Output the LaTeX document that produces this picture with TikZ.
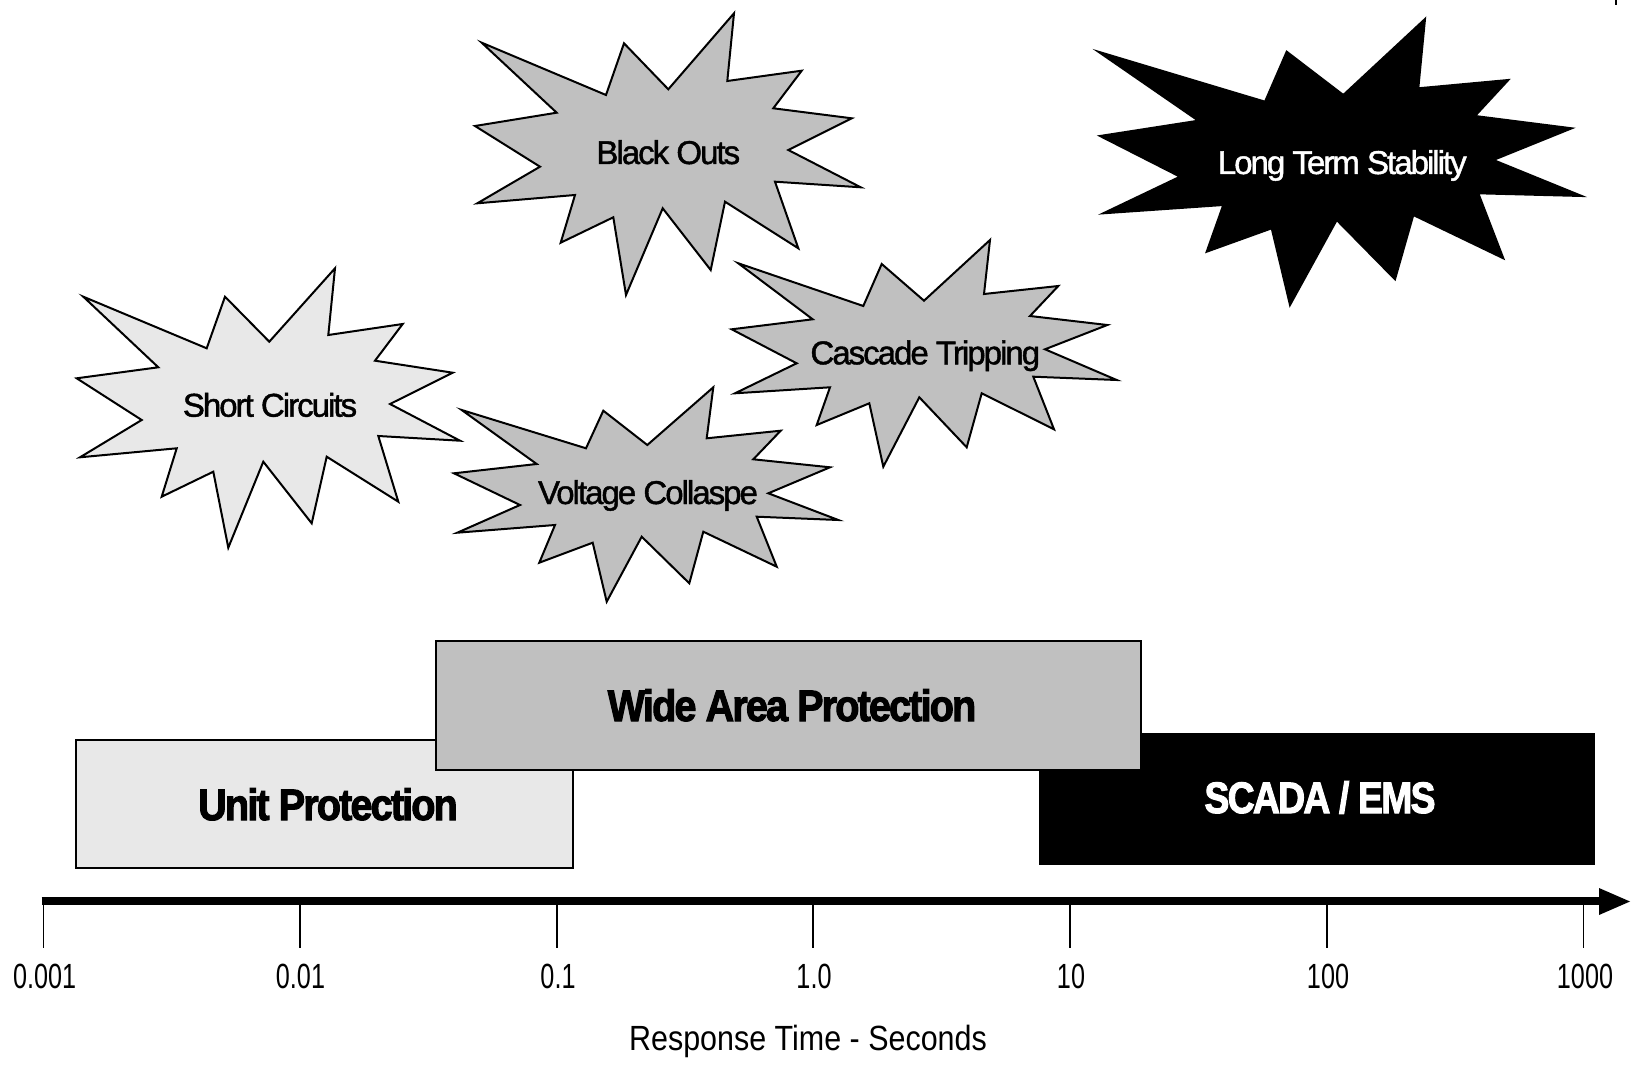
\documentclass[tikz,border=0pt]{standalone}
\usepackage{fontspec}
\usepackage{graphicx}
\setmainfont{Liberation Sans}
\newfontfamily\burstfont{Liberation Sans}[LetterSpace=-6, FakeBold=1.3]
\newfontfamily\bandfont{Liberation Sans}[LetterSpace=-4.7, BoldFeatures={FakeBold=2.5}]
\definecolor{lightg}{HTML}{E8E8E8}
\definecolor{midg}{HTML}{C0C0C0}
\newcommand{\cnd}[2]{\scalebox{#1}[1]{#2}}
\tikzset{
  burst/.style={draw=black, line width=2pt, line join=miter},
  bursttext/.style={anchor=base, inner sep=0pt, font=\burstfont\fontsize{33}{39}\selectfont},
  band/.style={draw=black, line width=2.2pt},
  bandtext/.style={anchor=base, inner sep=0pt, font=\bandfont\fontsize{44}{52}\selectfont\bfseries},
  ticklab/.style={anchor=base, inner sep=0pt, font=\fontsize{35}{42}\selectfont},
  tickline/.style={line width=1.6pt},
}
\begin{document}
\begin{tikzpicture}[x=1pt,y=-1pt]
\useasboundingbox (0,0) rectangle (1634,1067);
\fill[white] (0,0) rectangle (1634,1067);

% small mark top right
\coordinate (mk1) at (1616,0);
\coordinate (mk2) at (1616,5);
\draw[line width=2.5pt] (mk1) -- (mk2);

% ---------- starbursts ----------
% Short Circuits
\draw[burst, fill=lightg] (83.3,296.7) -- (206.7,348.3) -- (225,296.7) -- (269.3,341.7) -- (335,268.3) -- (328.3,335) -- (402.7,324) -- (375,360.7) -- (452.7,372.7) -- (390,404) -- (460,440.7) -- (378.3,436) -- (398.3,501.7) -- (326.7,456.7) -- (311.7,523.3) -- (263.3,461.7) -- (228.3,547.7) -- (213.3,471.7) -- (161.7,496.7) -- (176.7,448.3) -- (80,457.3) -- (141.7,420) -- (76.7,378.3) -- (158.3,367.3) -- cycle;
\node[bursttext] (sc) at (270,416.7) {Short Circuits};

% Black Outs
\draw[burst, fill=midg] (481.7,42.7) -- (606,95) -- (624,43.3) -- (668.3,89.3) -- (734,13.3) -- (727.3,81) -- (801.7,70.7) -- (773.3,108.3) -- (851.7,118.3) -- (788.3,150) -- (860.7,187.3) -- (775,181.7) -- (798.3,248.3) -- (725,201.7) -- (710.7,270) -- (662.7,208.3) -- (626,295) -- (613.3,217.3) -- (560.7,242.7) -- (575,195) -- (477.3,203.3) -- (540,166.7) -- (475,126) -- (556.7,112.7) -- cycle;
\node[bursttext] (bo) at (668.3,164) {Black Outs};

% Voltage Collaspe
\draw[burst, fill=midg] (461.7,410) -- (586,448.3) -- (603.3,410.7) -- (647.3,445) -- (713.3,387.3) -- (706.7,438.3) -- (780.7,430.7) -- (753.3,459.3) -- (830,467.3) -- (768.3,493.3) -- (838.3,520) -- (756.7,516.7) -- (776.7,566.7) -- (703.3,531.7) -- (689.3,583.3) -- (641.7,536.7) -- (606.7,601.7) -- (592.7,542.7) -- (539.3,562.7) -- (555,525) -- (457.3,532.7) -- (520,505) -- (454,473.3) -- (536.7,464) -- cycle;
\node[bursttext] (vc) at (648,504) {Voltage Collaspe};

% Cascade Tripping
\draw[burst, fill=midg] (738.3,263.3) -- (863.3,306) -- (881.7,264) -- (924,300.7) -- (990,240) -- (984,294) -- (1058.3,286) -- (1030,316) -- (1107.3,325) -- (1045,349.3) -- (1116.7,380) -- (1033.3,376.7) -- (1054,429.3) -- (981.7,393.3) -- (966.7,447.3) -- (919.3,397.3) -- (883.3,466.7) -- (869.3,403.3) -- (816.7,425) -- (830,387.3) -- (735,393.3) -- (796.7,363.3) -- (731.7,329.3) -- (812.7,319.3) -- cycle;
\node[bursttext] (ct) at (925.3,364.3) {Cascade Tripping};

% Long Term Stability
\draw[burst, fill=black] (1098.3,51.7) -- (1265,101.7) -- (1286.7,51.7) -- (1343.3,95) -- (1425,19) -- (1418.3,88.3) -- (1508.3,80) -- (1475,116) -- (1571.7,128.3) -- (1493.3,160) -- (1581.7,196) -- (1478.3,193.3) -- (1503.3,258.3) -- (1413.3,215) -- (1395,279.3) -- (1336.7,220) -- (1290,305) -- (1271.7,228.3) -- (1206.7,251.7) -- (1223.3,205) -- (1103.3,213.3) -- (1180,176.7) -- (1100,136) -- (1198.3,120.7) -- cycle;
\node[bursttext, text=white] (lt) at (1342.3,174) {Long Term Stability};

% ---------- bands ----------
\draw[band, fill=lightg] (76,740) rectangle (573,868);
\node[bandtext] (up) at (328,820) {\cnd{0.9}{Unit Protection}};
\draw[band, fill=black] (1040,734) rectangle (1594,864);
\node[bandtext, text=white] (se) at (1320,813) {\cnd{0.85}{SCADA / EMS}};
\draw[band, fill=midg] (436,641) rectangle (1141,770);
\node[bandtext] (wa) at (792,721) {\cnd{0.9}{Wide Area Protection}};

% ---------- axis ----------
\coordinate (axL) at (41.7,901);
\coordinate (axR) at (1601,901);
\coordinate (axT) at (1630,901.5);
\draw[line width=8pt] (axL) -- (axR);
\fill (1599,888) -- (axT) -- (1599,915) -- cycle;

\foreach \n/\x/\lx/\t/\f in {1/43.5/44.7/0.001/0.72, 2/300/300.5/0.01/0.72, 3/557/558/0.1/0.72, 4/813/814/1.0/0.72, 5/1070/1071/10/0.72, 6/1327/1328/100/0.72, 7/1583.5/1585/1000/0.72}{
  \coordinate (t\n) at (\x,901);
  \coordinate (b\n) at (\x,948);
  \draw[tickline] (t\n) -- (b\n);
  \node[ticklab] (l\n) at (\lx,988) {\cnd{\f}{\t}};
}

\node[ticklab] (title) at (808,1050) {\cnd{0.87}{Response Time - Seconds}};
\end{tikzpicture}
\end{document}
